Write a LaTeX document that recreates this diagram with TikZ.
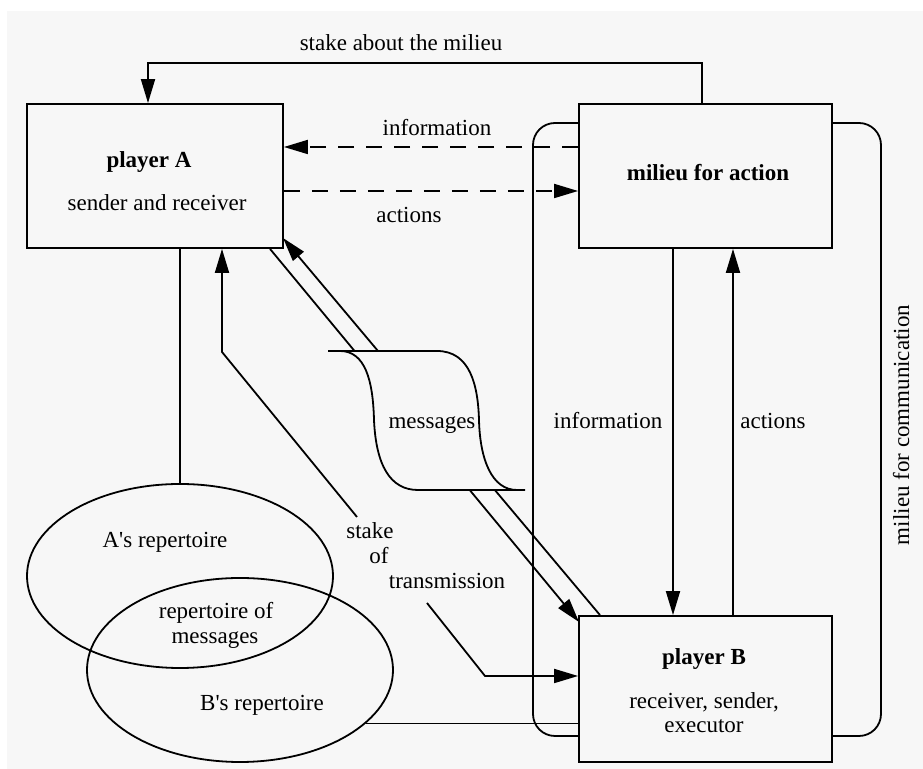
\documentclass[tikz,border=0pt]{standalone}
\usepackage{fontspec}
\setmainfont{Liberation Serif}
\usetikzlibrary{arrows.meta,shapes.geometric,calc}
\definecolor{paper}{HTML}{F7F7F7}
\begin{document}
\begin{tikzpicture}[x=0.5pt,y=-0.5pt,
  every node/.style={font=\fontsize{11.5}{13}\selectfont},
  ln/.style={line width=0.9pt},
  arr/.style={ln,-{Triangle[length=12pt,width=7pt]}},
  dsh/.style={dash pattern=on 8pt off 6pt},
  box/.style={draw,ln,fill=paper,inner sep=0pt},
  rep/.style={draw,ln,ellipse,inner sep=0pt,minimum width=153pt,minimum height=92pt},
  lbl/.style={anchor=base,inner sep=0pt},
  bl/.style={lbl,font=\fontsize{11.5}{13}\selectfont\bfseries}]
% canvas
\useasboundingbox (0,0) rectangle (923,769);
\fill[white] (0,0) rectangle (923,769);
\fill[paper] (7,11) rectangle (923,769);

% milieu for communication (rounded frame, behind the boxes)
\node[draw,ln,rectangle,rounded corners=11pt,minimum width=174pt,minimum height=306.5pt,inner sep=0pt] (comm) at (707,429.5) {};

% reference positions for connectors
\coordinate (m1) at (270,0);
\coordinate (m2) at (600,0);
\coordinate (xs) at (148,0);
\coordinate (xr) at (702,0);
\coordinate (xst) at (222,0);
\coordinate (xi) at (673,0);
\coordinate (xa) at (733,0);
\coordinate (yinfo) at (0,147);
\coordinate (yact) at (0,191);

% the three boxes
\node[box,minimum width=128pt,minimum height=72pt] (pA) at (155,176) {};
\node[box,minimum width=126.5pt,minimum height=72pt] (mil) at (705.5,176) {};
\node[box,minimum width=126.5pt,minimum height=73pt] (pB) at (705.5,689) {};

% messages channel: two parallel lines passing behind the message sheet
\draw[arr] (pA.south -| m1) -- (579,622);
\draw[arr] (pB.north -| m2) -- (283,238);

% message sheet
\path[fill=paper] (340,351) -- (437,351) .. controls (470,351) and (478,385) .. (479,420)
  .. controls (480,460) and (492,490) .. (517,490) -- (418,490)
  .. controls (390,490) and (376,465) .. (374,420)
  .. controls (373,380) and (365,351) .. (340,351) -- cycle;
\draw[ln] (328,351) -- (437,351) .. controls (470,351) and (478,385) .. (479,420)
  .. controls (480,460) and (492,490) .. (517,490) -- (525,490);
\draw[ln] (328,351) -- (340,351) .. controls (365,351) and (373,380) .. (374,420)
  .. controls (376,465) and (390,490) .. (418,490) -- (517,490);
\node[lbl] (msg) at (432,429) {messages};

% stake about the milieu
\coordinate (tr) at (702,63);
\coordinate (tl) at (148,63);
\draw[arr] (mil.north -| xr) -- (tr) -- (tl) -- (pA.north -| xs);
\node[lbl] (stm) at (401,51) {stake about the milieu};

% information / actions between player A and the milieu
\draw[arr,dsh] (mil.west |- yinfo) -- (pA.east |- yinfo);
\draw[arr,dsh] (pA.east |- yact) -- (mil.west |- yact);
\node[lbl] (infA) at (437,136) {information};
\node[lbl] (actA) at (409,223) {actions};

% information / actions between the milieu and player B
\draw[arr] (mil.south -| xi) -- (pB.north -| xi);
\draw[arr] (pB.north -| xa) -- (mil.south -| xa);
\node[lbl] (infB) at (608,429) {information};
\node[lbl] (actB) at (773,429) {actions};
\node[lbl,rotate=90] (mfc) at (909,425) {milieu for communication};

% repertoires
\node[rep] (repA) at (180,576) {};
\node[rep] (repB) at (240,670) {};
\draw[ln] (pA.south -| repA.north) -- (repA.north);
\draw[ln] (repB.-23) -- (repB.-23 -| pB.west);
\node[lbl] (tA) at (165,548) {A\textquotesingle s repertoire};
\node[lbl] (tM1) at (216,619) {repertoire of};
\node[lbl] (tM2) at (215,644) {messages};
\node[lbl] (tB) at (262,711) {B\textquotesingle s repertoire};

% stake of transmission
\coordinate (s1) at (357,517);
\coordinate (s2) at (222,352);
\coordinate (s3) at (427,603);
\coordinate (s4) at (485,676);
\draw[arr] (s1) -- (s2) -- (pA.south -| xst);
\draw[arr] (s3) -- (s4) -- (pB.west |- s4);
\node[lbl] (st1) at (370,539) {stake};
\node[lbl] (st2) at (379,564) {of};
\node[lbl] (st3) at (447,589) {transmission};

% box texts
\node[bl] (nA) at (149,168) {player A};
\node[lbl] (dA) at (157,211) {sender and receiver};
\node[bl] (nM) at (708,181) {milieu for action};
\node[bl] (nB) at (704,665) {player B};
\node[lbl] (dB1) at (704,709) {receiver, sender,};
\node[lbl] (dB2) at (704,733) {executor};
\end{tikzpicture}
\end{document}
